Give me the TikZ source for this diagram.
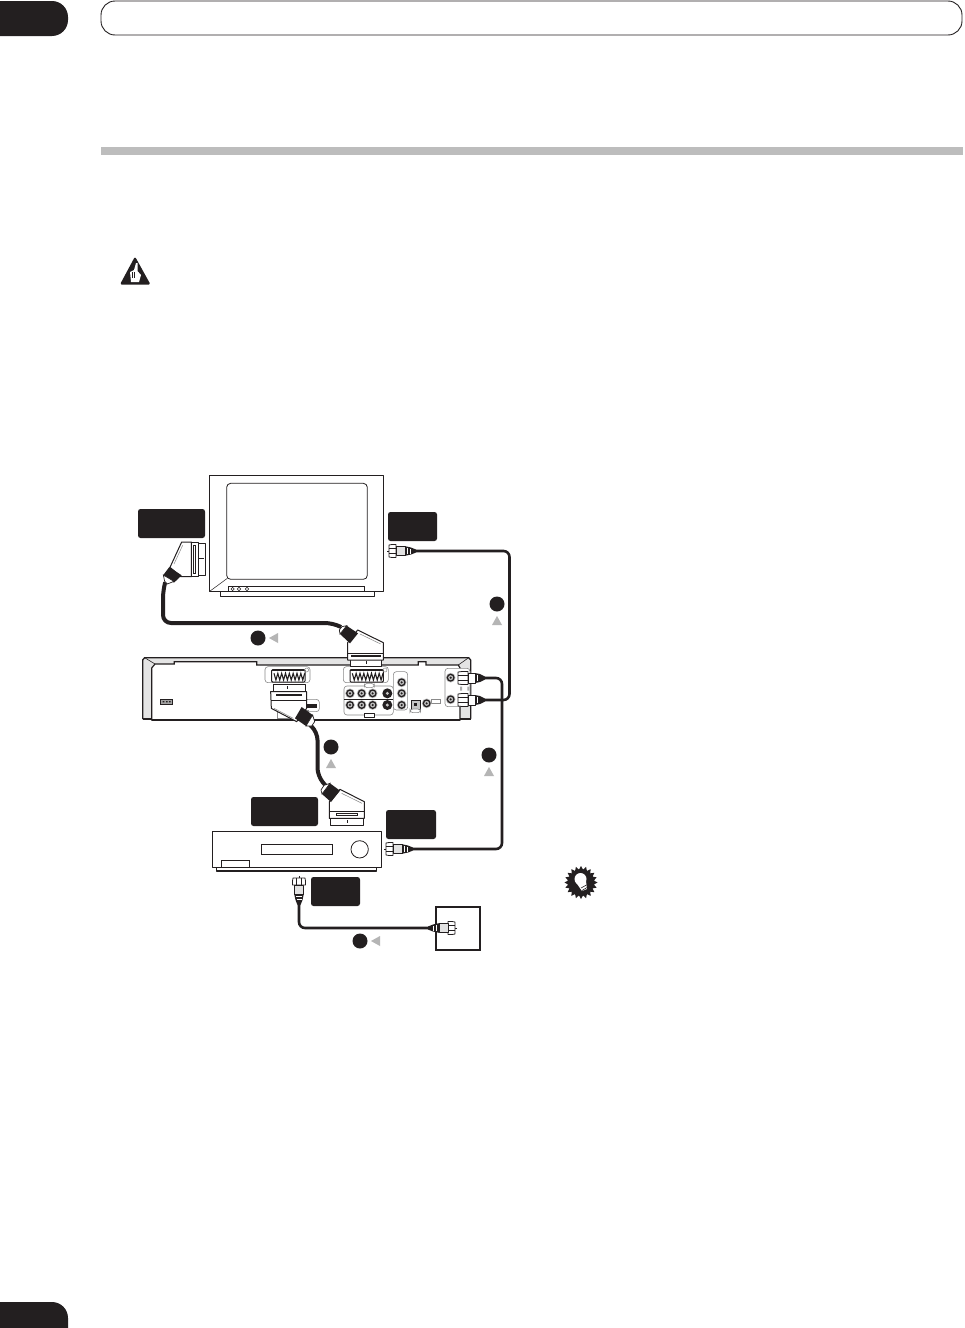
\documentclass[tikz,border=0pt]{standalone}
\definecolor{ink}{HTML}{231F20}
\definecolor{barg}{HTML}{BDBDBD}
\definecolor{tri}{HTML}{B5B5B5}
\definecolor{panel}{HTML}{E4E4E4}
\definecolor{soft}{HTML}{8A8A8A}
\tikzset{
  lblbox/.style={fill=ink,draw=none,rounded corners=2.5pt},
  cable/.style={draw=ink,line width=2.6pt,rounded corners=6pt},
  thick cable/.style={draw=ink,line width=4pt,rounded corners=8pt},
  outl/.style={draw=ink,line width=1.3pt,fill=white,line join=round},
  thin outl/.style={draw=ink,line width=.8pt,fill=white,line join=round},
  softbox/.style={draw=soft,line width=.6pt,rounded corners=3pt,fill=white},
  dotm/.style={circle,fill=ink,draw=none,minimum size=15pt,inner sep=0pt},
  trim/.style={fill=tri,draw=none},
  zone/.style={x=.33333pt,y=-.33333pt},
}
\newcommand{\coaxplug}[3]{%
  \begin{scope}[shift={(#1,#2)},rotate=#3,x=1pt,y=1pt]
    \draw[ink,line width=.7pt] (0,0)--(4,0);
    \draw[thin outl] (2,-6)--(5,-6.5)--(9,-6.5)--(9,6.5)--(5,6.5)--(2,6)--cycle;
    \draw[ink,line width=.5pt] (2,-2.5)--(9,-2.5) (2,2.5)--(9,2.5);
    \draw[thin outl,fill=soft!25] (9,-4.8)--(18,-4.8)--(18,4.8)--(9,4.8)--cycle;
    \fill[ink] (18,-4.8)--(24,-3.5)--(29,-1.5)--(29,1.5)--(24,3.5)--(18,4.8)--cycle;
    \fill[white] (20,-3)--(21,-3)--(21,3)--(20,3)--cycle;
    \fill[white] (23,-2.5)--(23.8,-2.5)--(23.8,2.5)--(23,2.5)--cycle;
  \end{scope}}
\newcommand{\recplug}[2]{%
  \begin{scope}[shift={(#1,#2)},x=1pt,y=1pt]
    \draw[thin outl] (0,-6)--(4,-6.5)--(10,-6.5)--(10,6.5)--(4,6.5)--(0,6)--cycle;
    \draw[ink,line width=.5pt] (0,-2.5)--(10,-2.5) (0,2.5)--(10,2.5);
    \draw[thin outl] (10,-5)--(17,-5)--(17,5)--(10,5)--cycle;
    \fill[ink] (17,-5)--(22,-4)--(27,-1.5)--(27,1.5)--(22,4)--(17,5)--cycle;
    \fill[white] (19,-3)--(20,-3)--(20,3)--(19,3)--cycle;
  \end{scope}}
\newcommand{\jackz}[2]{%
  \fill[soft!60] (#1,#2) circle (14.5);
  \fill[ink] (#1,#2) circle (12);
  \fill[soft!55] (#1,#2) circle (7.5);
  \fill[ink] (#1,#2) circle (3.5);}
\newcommand{\sjackz}[2]{%
  \fill[ink] (#1,#2) circle (15);
  \fill[white!75!ink] (#1,#2) circle (5);}
\newcommand{\scartz}[2]{%
  \begin{scope}[shift={(#1,#2)}]
    \draw[softbox] (0,0) rectangle (135,48);
    \draw[draw=ink,line width=1pt,fill=white,rounded corners=1pt] (20,9)--(120,9)--(120,46)--(20,46)--cycle;
    \draw[draw=ink,line width=1.1pt] (27,20)
      \foreach \k in {0,...,7}{ -- ({27+\k*11.5+5.75},40) -- ({27+\k*11.5+11.5},20) };
    \draw[draw=ink,line width=1.5pt] (20,12)--(120,12);
    \draw[soft,line width=.5pt] (125,10) circle (6);
  \end{scope}}
\begin{document}
\begin{tikzpicture}[x=1pt,y=-1pt]
\useasboundingbox (0,0) rectangle (964,1328);
\fill[white] (0,0) rectangle (964,1328);

% page furniture
\fill[ink] (0,1) -- (52,1) arc[start angle=-90,end angle=0,radius=16] -- +(0,3) arc[start angle=0,end angle=90,radius=16] -- (0,36) -- cycle;
\fill[ink] (0,1302) -- (52,1302) arc[start angle=-90,end angle=0,radius=16] -- (68,1328) -- (0,1328) -- cycle;
\node[draw=ink,line width=.9pt,rounded corners=14pt,minimum width=861pt,minimum height=34pt,inner sep=0pt] (titlebox) at (531.5,18) {};
\fill[barg] (101,147) rectangle (963,155);

% warning icon
\fill[ink,rounded corners=1.5pt] (135,256.5)--(150.5,284.5)--(120,284.5)--cycle;
\fill[white] (130,272)--(134,270)--(136,263)--(137.5,263)--(137.5,271)--(141,275)--(139,282)--(131,282)--cycle;
\draw[ink,line width=.4pt] (132,272)--(132,278) (134.5,272)--(134.5,278);

% tip icon
\fill[ink] (597.5,882.5)
  \foreach \a in {0,18,...,342}{ -- ({581+13*cos(\a+9)},{882.5+13*sin(\a+9)}) -- ({581+16.5*cos(\a+18)},{882.5+16.5*sin(\a+18)}) } -- cycle;
\fill[white] (580.5,879) circle (6);
\fill[white] (575,881)--(586,881)--(587,889)--(582,891)--cycle;
\draw[ink,line width=.6pt] (581,888)--(586.5,885) (582,890.5)--(587,887.5);

% TV
\begin{scope}[shift={(130,460)},zone]
  \draw[outl] (271,394) rectangle (733,409);
  \draw[outl] (239,46) rectangle (760,394);
  \draw[draw=ink,line width=.8pt,rounded corners=4pt] (290,70) rectangle (712,358);
  \draw[ink,line width=.5pt] (239,394)--(292,355);
  \draw[draw=ink,line width=.8pt] (295,379) rectangle (703,394);
  \foreach \c in {308,327,351}{\draw[ink,line width=.5pt] (\c,387) circle (5);}
\end{scope}

% label plates
\node[lblbox,minimum width=67pt,minimum height=29pt,inner sep=0pt] (tvscart) at (171.5,523.5) {};
\node[lblbox,minimum width=49pt,minimum height=29pt,inner sep=0pt] (tvant) at (412.5,526.5) {};
\node[lblbox,minimum width=67pt,minimum height=29pt,inner sep=0pt] (vcrscart) at (284.5,811.5) {};
\node[lblbox,minimum width=50pt,minimum height=29pt,inner sep=0pt] (vcrout) at (411,824.5) {};
\node[lblbox,minimum width=49pt,minimum height=29pt,inner sep=0pt] (vcrin) at (335.5,891.5) {};

% recorder
\begin{scope}[shift={(130,640)},zone]
  \draw[outl,fill=panel] (38,60)--(44,53)--(1016,53)--(1022,60)--(1022,236)--(38,236)--cycle;
  \draw[draw=ink,line width=1.2pt,fill=white] (65,240)--(65,84)--(75,72)--(133,72)--(133,65)--(380,65)--(380,75)--(865,75)--(865,65)--(888,65)--(888,75)--(985,75)--(990,84)--(990,240)--cycle;
  \draw[ink,line width=.6pt] (44,53)--(75,72) (1016,53)--(985,75);
  \draw[ink,line width=1.7pt] (38,236)--(65,236) (65,240)--(990,240) (990,236)--(1022,236);
  \fill[soft!80] (92,177) rectangle (127,192);
  \draw[ink,line width=.8pt] (92,177) rectangle (127,192);
  \fill[ink] (98,183) rectangle (103,187) (108,183) rectangle (113,187) (117,183) rectangle (122,187);
  \scartz{405}{80}
  \scartz{640}{80}
  \draw[softbox] (642,138) rectangle (790,225);
  \draw[softbox] (790,95) rectangle (833,210);
  \draw[softbox] (703,130) rectangle (733,143);
  \draw[outl,line width=.9pt] (703,220) rectangle (733,233);
  \draw[ink,line width=1.2pt] (642,178)--(790,178);
  \jackz{660}{160}\jackz{695}{160}\jackz{728}{160}\sjackz{772}{160}
  \jackz{660}{195}\jackz{695}{195}\jackz{728}{195}\sjackz{772}{195}
  \jackz{815}{127}\jackz{815}{160}\jackz{815}{195}
  \draw[ink,line width=.9pt,fill=soft!50] (843,180) rectangle (870,207);
  \fill[ink] (851,188) rectangle (862,199);
  \draw[softbox] (840,207) rectangle (872,218);
  \draw[soft,line width=.5pt] (905,177) rectangle (932,189);
  \jackz{890}{190}
  \draw[softbox] (945,85) rectangle (1020,200);
  \jackz{962}{113}\jackz{962}{178}
  \fill[soft!70] (990,140) rectangle (996,152) (1012,140) rectangle (1018,152);
  \draw[softbox] (525,178) rectangle (568,215);
  \fill[ink] (532,192) rectangle (562,205);
  \draw[soft,line width=.5pt] (443,212) rectangle (535,236);
\end{scope}

% cables
\coordinate (tvcoaxend) at (416,551);
\coordinate (reclow) at (485,700);
\coordinate (rechigh) at (485,678);
\coordinate (vcrcoaxend) at (413,849);
\coordinate (vcrinend) at (299,905);
\coordinate (wallend) at (428,928);
\coordinate (tvscartend) at (165,583);
\coordinate (recscartend) at (341,627);
\coordinate (recscartb) at (310,725);
\coordinate (vcrscarttop) at (326,786);
\draw[cable] (tvcoaxend) -- (509.5,551) -- (509.5,700) -- (reclow);
\draw[cable] (rechigh) -- (502,678) -- (502,849) -- (vcrcoaxend);
\draw[cable] (vcrinend) -- (299,928) -- (wallend);
\draw[thick cable] (tvscartend) -- (163,590) -- (163,623) -- (333,623) -- (recscartend);
\draw[thick cable] (recscartb) -- (317.5,732) -- (317.5,776) -- (vcrscarttop);

% wall socket
\node[draw=ink,line width=1.3pt,fill=white,minimum width=44pt,minimum height=43pt,inner sep=0pt] (wall) at (458,928.5) {};
\draw[ink,line width=2.6pt] (wall.west) -- (wallend);

% coax plugs
\coaxplug{387}{551}{0}
\coaxplug{384}{849}{0}
\coaxplug{299}{876}{-90}
\coaxplug{457}{928}{180}
\recplug{458}{678}
\recplug{458}{700}

% SCART plug at TV
\begin{scope}[shift={(130,460)},zone]
  \draw[thin outl] (205,250) rectangle (225,346);
  \draw[ink,line width=.4pt] (207,296)--(222,296);
  \draw[thin outl] (184,246) rectangle (205,350);
  \draw[ink,line width=.6pt] (191,256) rectangle (196,340);
  \draw[outl,line width=1pt] (155,246)--(184,246)--(184,350)--(152,350)--(120,322)--cycle;
  \draw[soft,line width=.5pt] (158,256)--(132,312);
  \fill[ink] (118,321)--(155,346)--(132,368)--(100,345)--cycle;
  \draw[ink,line width=.7pt,fill=white] (100,345)--(132,364)--(112,372)--(104,364)--cycle;
\end{scope}

% SCART plug at recorder, top
\begin{scope}[shift={(130,460)},zone]
  \draw[thin outl] (660,596) rectangle (755,618);
  \draw[ink,line width=.5pt] (708,602)--(708,612);
  \draw[outl,line width=1pt] (683,510)--(760,548)--(760,600)--(653,600)--(653,548)--cycle;
  \draw[ink,line width=.5pt] (653,581)--(760,581);
  \draw[ink,line width=.6pt] (665,586) rectangle (750,590);
  \draw[soft,line width=.5pt] (690,522)--(752,552);
  \fill[ink] (650,497)--(684,520)--(660,550)--(630,522)--cycle;
  \draw[ink,line width=.7pt,fill=white] (630,522)--(650,497)--(636,500)--(628,510)--cycle;
\end{scope}

% SCART plug at recorder, bottom
\begin{scope}[shift={(130,640)},zone]
  \draw[thin outl] (430,133) rectangle (525,155);
  \draw[ink,line width=.5pt] (473,138)--(473,148);
  \draw[outl,line width=1pt] (422,155)--(530,155)--(530,205)--(500,245)--(424,205)--cycle;
  \draw[ink,line width=.5pt] (424,180)--(530,180);
  \draw[ink,line width=.6pt] (440,163) rectangle (515,167);
  \draw[soft,line width=.5pt] (432,205)--(490,235);
  \fill[ink] (515,201)--(548,225)--(528,258)--(495,235)--cycle;
  \draw[ink,line width=.7pt,fill=white] (548,225)--(528,258)--(545,258)--(554,245)--cycle;
\end{scope}

% SCART plug at VCR
\begin{scope}[shift={(200,770)},zone]
  \draw[thin outl] (392,145) rectangle (490,166);
  \draw[ink,line width=.5pt] (441,150)--(441,160);
  \draw[outl,line width=1pt] (420,58)--(493,95)--(493,145)--(388,145)--(388,95)--cycle;
  \draw[ink,line width=.5pt] (388,125)--(493,125);
  \draw[ink,line width=.6pt] (408,130) rectangle (472,135);
  \draw[soft,line width=.5pt] (425,70)--(486,100);
  \fill[ink] (390,40)--(420,62)--(393,96)--(366,72)--cycle;
  \draw[ink,line width=.7pt,fill=white] (390,40)--(366,72)--(363,60)--(372,46)--cycle;
\end{scope}

% VCR
\begin{scope}[shift={(200,770)},zone]
  \draw[outl] (50,293) rectangle (530,303);
  \draw[outl] (38,185) rectangle (545,293);
  \draw[draw=ink,line width=.8pt] (183,223) rectangle (398,254);
  \draw[ink,line width=.8pt] (479,238) circle (26);
  \draw[draw=ink,line width=.8pt] (64,293)--(64,271)--(148,271)--(148,293);
\end{scope}

% step markers
\node[dotm] (m1) at (258,638) {};
\fill[trim] (269,638)--(278,633)--(278,643)--cycle;
\node[dotm] (m2) at (497,604) {};
\fill[trim] (497,616)--(492,625)--(502,625)--cycle;
\node[dotm] (m3) at (331,747) {};
\fill[trim] (331,759)--(326,768)--(336,768)--cycle;
\node[dotm] (m4) at (489,755) {};
\fill[trim] (489,767)--(484,776)--(494,776)--cycle;
\node[dotm] (m5) at (360,941) {};
\fill[trim] (371,941)--(380,936)--(380,946)--cycle;
\end{tikzpicture}
\end{document}
